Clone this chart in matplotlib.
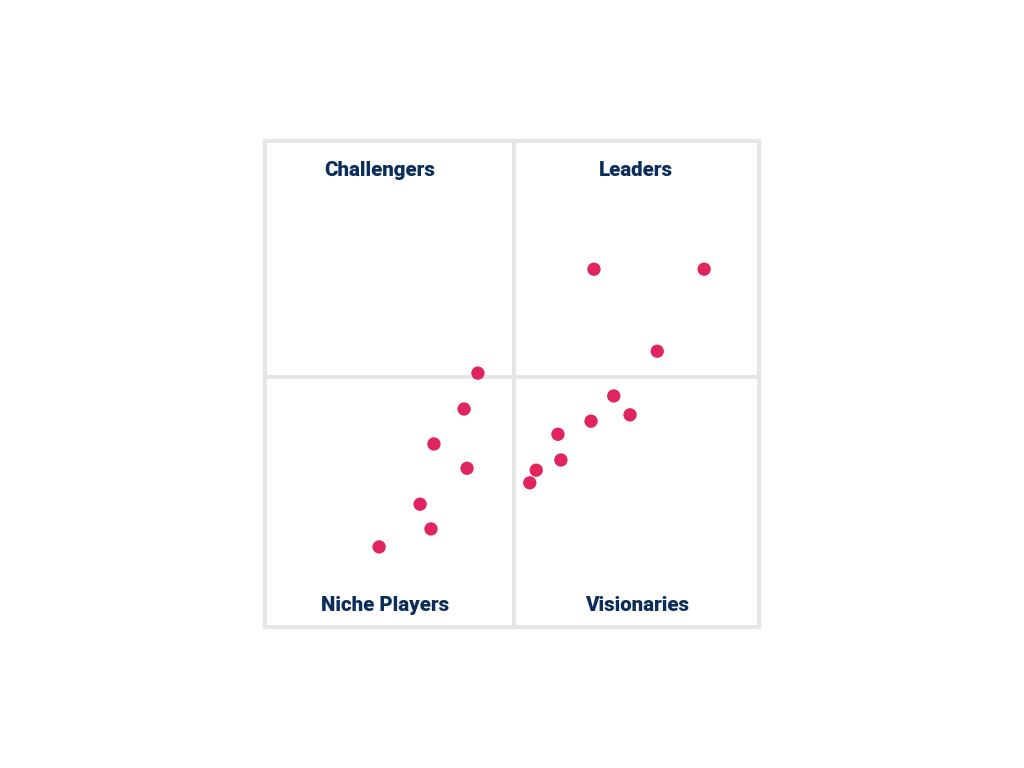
import matplotlib.pyplot as plt

# vendor positions (ability to execute vs completeness of vision, 0-100)
vision_x = [66.6, 88.9, 79.4, 43.1, 40.3, 70.6, 73.9, 66.0, 59.3,
            34.2, 40.9, 59.9, 54.9, 53.6, 31.4, 33.6, 23.1]
execute_y = [73.6, 73.6, 56.7, 52.2, 44.8, 47.5, 43.6, 42.3, 39.6,
             37.6, 32.6, 34.3, 32.2, 29.6, 25.2, 20.1, 16.4]

quadrant_names = ["Challengers", "Leaders", "Niche Players", "Visionaries"]
quadrant_x = [23.3, 75.1, 24.3, 75.3]
quadrant_y = [93.9, 93.9, 4.3, 4.3]

grey = "#e6e6e6"
navy = "#0b2d5b"
pink = "#e0245e"

fig = plt.figure(figsize=(10.24, 7.68), dpi=100)
ax = fig.add_axes([0.2588, 0.1842, 0.4824, 0.6322])
ax.set_xlim(0, 100)
ax.set_ylim(0, 100)

for s in ax.spines.values():
    s.set_color(grey)
    s.set_linewidth(2.9)
ax.axvline(50.4, color=grey, lw=2.9, zorder=1)
ax.axhline(51.3, color=grey, lw=2.9, zorder=1)

ax.scatter(vision_x, execute_y, s=92, color=pink, edgecolors="none", zorder=3)

for name, qx, qy in zip(quadrant_names, quadrant_x, quadrant_y):
    ax.text(qx, qy, name, ha="center", va="center", fontsize=14.8,
            fontweight="black", color=navy, family="Roboto")

ax.set_xticks([])
ax.set_yticks([])

plt.savefig("out.png", dpi=100)
